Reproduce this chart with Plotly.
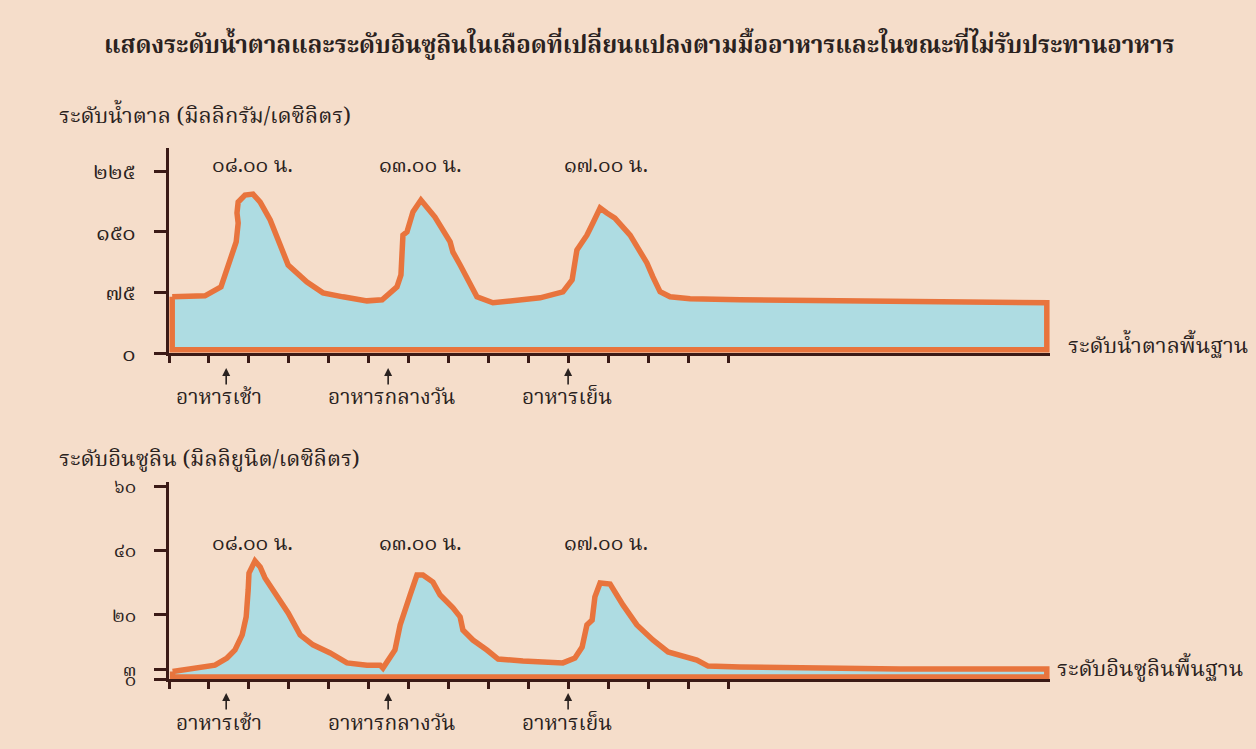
import plotly.graph_objects as go

W, H = 1256, 749

# ---------------- data ----------------
# x is measured in tick units along the time axis (one tick per unit)
sugar_x = [0.08, 0.48, 0.9, 1.3, 1.48, 1.68, 1.73, 1.7, 1.73, 1.9, 2.1, 2.28, 2.53, 2.73, 2.98,
           3.45, 3.85, 4.35, 4.95, 5.33, 5.7, 5.8, 5.83, 5.85, 5.95, 6.1, 6.3, 6.65, 7.03, 7.1,
           7.28, 7.45, 7.7, 8.1, 8.7, 9.28, 9.85, 10.08, 10.2, 10.45, 10.6, 10.78, 10.95, 11.15,
           11.53, 11.78, 11.95, 12.1, 12.28, 12.53, 13.03, 14.28, 18.28, 21.95]
sugar_y = [69.6, 69.6, 70.8, 82, 109, 137.6, 161, 173.4, 187, 195.7, 196.9, 187, 164.8, 140, 109,
           88, 74.5, 69.6, 64.6, 65.9, 82, 96.8, 124, 146, 150, 174.7, 189.5, 168.5, 137.6, 125,
           109, 94.3, 69.6, 62.2, 65.9, 68.4, 75.8, 90.6, 127.7, 146, 161, 179.6, 173.4, 167.2,
           146, 124, 111.6, 94.3, 75.8, 69.6, 67.1, 65.9, 64.6, 62.2]
sugar_floor = 4

insulin_x = [0.09, 0.6, 1.15, 1.45, 1.65, 1.83, 1.93, 1.98, 2.0, 2.15, 2.28, 2.4, 2.65, 2.98, 3.28,
             3.6, 4.03, 4.45, 4.95, 5.28, 5.35, 5.65, 5.78, 5.95, 6.03, 6.2, 6.35, 6.6, 6.78, 7.1,
             7.28, 7.35, 7.6, 7.95, 8.23, 8.85, 9.45, 9.85, 10.15, 10.33, 10.45, 10.58, 10.65,
             10.78, 11.03, 11.35, 11.7, 12.1, 12.48, 13.2, 13.48, 14.28, 18.28, 21.95]
insulin_y = [2.4, 3.5, 4.4, 6.6, 9.1, 13.8, 19.4, 27.8, 33.0, 36.8, 34.9, 31.5, 26.8, 20.6, 13.8,
             10.7, 8.2, 5.1, 4.4, 4.4, 3.5, 9.1, 16.9, 24.0, 26.2, 32.4, 32.4, 30.2, 26.2, 22.2,
             19.4, 15.3, 12.2, 9.1, 6.3, 5.7, 5.4, 5.1, 6.6, 10.0, 16.9, 18.4, 25.6,
             29.9, 29.6, 23.1, 16.9, 12.2, 8.5, 6.0, 4.1, 3.8, 3.2, 3.2]
insulin_floor = 0.7

sugar_ticks = [0, 75, 150, 225]
sugar_ticktext = ["๐", "๗๕", "๑๕๐", "๒๒๕"]
insulin_ticks = [0, 3, 20, 40, 60]
insulin_ticktext = ["๐", "๓", "๒๐", "๔๐", "๖๐"]
x_ticks = list(range(0, 15))

time_labels = ["๐๘.๐๐ น.", "๑๓.๐๐ น.", "๑๗.๐๐ น."]
time_pos = [2.08, 6.28, 10.93]
meal_labels = ["อาหารเช้า", "อาหารกลางวัน", "อาหารเย็น"]
meal_arrow_pos = [1.43, 5.48, 9.98]
meal_text_pos = [1.25, 5.58, 9.95]

title = "แสดงระดับน้ำตาลและระดับอินซูลินในเลือดที่เปลี่ยนแปลงตามมื้ออาหารและในขณะที่ไม่รับประทานอาหาร"
sugar_title = "ระดับน้ำตาล (มิลลิกรัม/เดซิลิตร)"
insulin_title = "ระดับอินซูลิน (มิลลิยูนิต/เดซิลิตร)"
sugar_base = "ระดับน้ำตาลพื้นฐาน"
insulin_base = "ระดับอินซูลินพื้นฐาน"

# ---------------- style ----------------
BG = "#F5DDCA"
FILL = "#AEDCE2"
ORANGE = "#E8743D"
AXIS = "#3B1A16"
TXT = "#2A2220"
FONT = "Noto Serif Thai, Noto Sans Thai, Tlwg Typo, Garuda, Loma, Noto Sans, serif"


def px_x(p):
    return p / W


def px_y(p):
    return 1 - p / H


def closed(xs, ys, floor):
    cx = list(xs) + [xs[-1], xs[0], xs[0]]
    cy = list(ys) + [floor, floor, ys[0]]
    return cx, cy


fig = go.Figure()
sx, sy = closed(sugar_x, sugar_y, sugar_floor)
fig.add_trace(go.Scatter(x=sx, y=sy, mode="lines", fill="toself", fillcolor=FILL,
                         line=dict(color=ORANGE, width=5.5), xaxis="x", yaxis="y",
                         hoverinfo="skip", showlegend=False))
ix, iy = closed(insulin_x, insulin_y, insulin_floor)
fig.add_trace(go.Scatter(x=ix, y=iy, mode="lines", fill="toself", fillcolor=FILL,
                         line=dict(color=ORANGE, width=5.5), xaxis="x2", yaxis="y2",
                         hoverinfo="skip", showlegend=False))

xdom = [px_x(169), px_x(1050)]
xcommon = dict(range=[0, 22.03], domain=xdom, showgrid=False, zeroline=False,
               showline=True, linecolor=AXIS, linewidth=3, ticks="outside",
               tickvals=x_ticks, ticklen=7, tickwidth=2.5, tickcolor=AXIS,
               showticklabels=False, fixedrange=True, automargin=False)
ycommon = dict(showgrid=False, zeroline=False, showline=True, linecolor=AXIS, linewidth=3,
               ticks="outside", ticklen=12, tickwidth=3, tickcolor=AXIS,
               ticklabelstandoff=14, fixedrange=True, automargin=False)

fig.update_layout(
    width=W, height=H, paper_bgcolor=BG, plot_bgcolor=BG,
    margin=dict(l=0, r=0, t=0, b=0, pad=0, autoexpand=False),
    xaxis=dict(**xcommon, anchor="y"),
    xaxis2=dict(**xcommon, anchor="y2"),
    yaxis=dict(**ycommon, range=[0, 254], domain=[px_y(353), px_y(148)],
               tickvals=sugar_ticks, ticktext=sugar_ticktext, anchor="x",
               tickfont=dict(size=22, color=TXT, family=FONT)),
    yaxis2=dict(**ycommon, range=[0, 61.3], domain=[px_y(679.3), px_y(482)],
                tickvals=insulin_ticks, ticktext=insulin_ticktext, anchor="x2",
                tickfont=dict(size=19, color=TXT, family=FONT)),
    showlegend=False,
)

ann = []


def label(text, x, y, size, xref="paper", xanchor="center", bold=False):
    ann.append(dict(text=("<b>" + text + "</b>") if bold else text,
                    x=x, y=y, xref=xref, yref="paper",
                    xanchor=xanchor, yanchor="middle", showarrow=False,
                    font=dict(size=size, color=TXT, family=FONT)))


label(title, px_x(639), px_y(47), 24, bold=True)
label(sugar_title, px_x(57), px_y(117), 22, xanchor="left")
label(insulin_title, px_x(57), px_y(460), 22, xanchor="left")
label(sugar_base, px_x(1066), px_y(347), 22, xanchor="left")
label(insulin_base, px_x(1055), px_y(670), 22, xanchor="left")

for xr, time_y, meal_y, arrow_tip, arrow_tail in [("x", 166, 399, 368, 386), ("x2", 544, 724, 693, 711)]:
    for lab, p in zip(time_labels, time_pos):
        label(lab, p, px_y(time_y), 21, xref=xr)
    for lab, pa, pt in zip(meal_labels, meal_arrow_pos, meal_text_pos):
        label(lab, pt, px_y(meal_y), 21, xref=xr)
        ann.append(dict(text="", x=pa, y=px_y(arrow_tip), xref=xr, yref="paper",
                        ax=0, ay=arrow_tail - arrow_tip, axref="pixel", ayref="pixel",
                        showarrow=True, arrowhead=2, arrowsize=1, arrowwidth=1.6,
                        arrowcolor=TXT, standoff=0, startstandoff=0))

fig.update_layout(annotations=ann)
fig.write_html("out.html", config={"displayModeBar": False},
               post_script="document.body.style.margin='0';")
